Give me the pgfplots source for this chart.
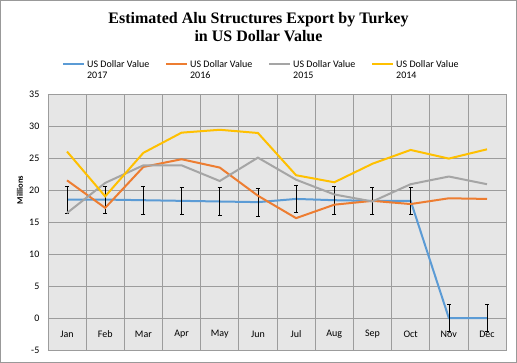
\documentclass[border=0pt]{standalone}
\usepackage{pgfplots}
\pgfplotsset{compat=1.18}
\usepackage{fontspec}
\setmainfont{Carlito}
\newfontfamily\titlefont{Liberation Serif}
\definecolor{cA}{HTML}{5B9BD5}
\definecolor{cB}{HTML}{ED7D31}
\definecolor{cC}{HTML}{A5A5A5}
\definecolor{cD}{HTML}{FFC000}
\definecolor{bggray}{HTML}{E6E6E6}
\definecolor{gridgray}{HTML}{9C9C9C}
\begin{document}
\begin{tikzpicture}
\begin{axis}[
  at={(0pt,0pt)}, anchor=south west,
  scale only axis, width=458pt, height=256pt,
  xmin=-0.5, xmax=11.5, ymin=-5, ymax=35,
  xtick={0,...,11},
  xticklabels={Jan,Feb,Mar,Apr,May,Jun,Jul,Aug,Sep,Oct,Nov,Dec},
  minor xtick={0.5,1.5,...,10.5},
  ytick={-5,0,...,35},
  grid=none, xminorgrids=true, ymajorgrids=true,
  major tick length=0pt, minor tick length=0pt,
  axis background/.style={fill=bggray},
  axis line style={gridgray, line width=0.8pt},
  grid style={gridgray, line width=0.8pt},
  minor grid style={gridgray, line width=0.8pt},
  tick label style={font=\fontsize{10}{12}\selectfont},
  /pgf/number format/assume math mode=true,
  xticklabel style={anchor=center, yshift=16pt},
  yticklabel style={xshift=-5pt},
  ylabel={Millions},
  ylabel style={font=\bfseries\fontsize{8.5}{10}\selectfont, at={(axis description cs:-0.061,0.625)}, anchor=center},
  legend style={at={(axis description cs:0.024,1.148)}, anchor=north west, draw=none, fill=none,
    legend columns=4, font=\fontsize{10}{11.5}\selectfont,
    /tikz/every even column/.append style={column sep=0pt}},
  legend image code/.code={\draw[#1] (0pt,0pt) -- (21pt,0pt);},
  every axis plot/.append style={line width=2pt},
]
\addplot[cA, mark=none, error bars/.cd, y dir=both, y explicit,
  error bar style={black, line width=0.6pt},
  error mark options={black, rotate=90, mark size=2pt, line width=0.6pt}]
  coordinates {
  (0,18.5) +- (0,2.15)
  (1,18.5) +- (0,2.15)
  (2,18.4) +- (0,2.15)
  (3,18.3) +- (0,2.15)
  (4,18.2) +- (0,2.15)
  (5,18.1) +- (0,2.15)
  (6,18.6) +- (0,2.15)
  (7,18.4) +- (0,2.15)
  (8,18.3) +- (0,2.15)
  (9,18.3) +- (0,2.15)
  (10,0) +- (0,2.15)
  (11,0) +- (0,2.15)
  };
\addlegendentry{\parbox[t]{76pt}{US Dollar Value\\2017}}
\addplot[cB, mark=none] coordinates {
  (0,21.5) (1,17.2) (2,23.6) (3,24.8) (4,23.5) (5,19.1)
  (6,15.6) (7,17.7) (8,18.3) (9,17.8) (10,18.7) (11,18.6)
  };
\addlegendentry{\parbox[t]{76pt}{US Dollar Value\\2016}}
\addplot[cC, mark=none] coordinates {
  (0,16.4) (1,21.1) (2,23.85) (3,23.85) (4,21.4) (5,25.05)
  (6,21.6) (7,19.3) (8,18.2) (9,20.9) (10,22.1) (11,20.9)
  };
\addlegendentry{\parbox[t]{76pt}{US Dollar Value\\2015}}
\addplot[cD, mark=none] coordinates {
  (0,26.0) (1,19.0) (2,25.8) (3,28.95) (4,29.4) (5,28.9)
  (6,22.3) (7,21.2) (8,24.1) (9,26.25) (10,24.9) (11,26.35)
  };
\addlegendentry{\parbox[t]{76pt}{US Dollar Value\\2014}}
\end{axis}
\node[anchor=base, font=\titlefont\bfseries\fontsize{16}{18}\selectfont] at (210.5pt,326pt) {Estimated Alu Structures Export by Turkey};
\node[anchor=base, font=\titlefont\bfseries\fontsize{16}{18}\selectfont] at (210.5pt,308pt) {in US Dollar Value};
\draw[gray!80, line width=0.8pt] (-47.5pt,-12.5pt) rectangle (468.5pt,349.5pt);
\end{tikzpicture}
\end{document}
